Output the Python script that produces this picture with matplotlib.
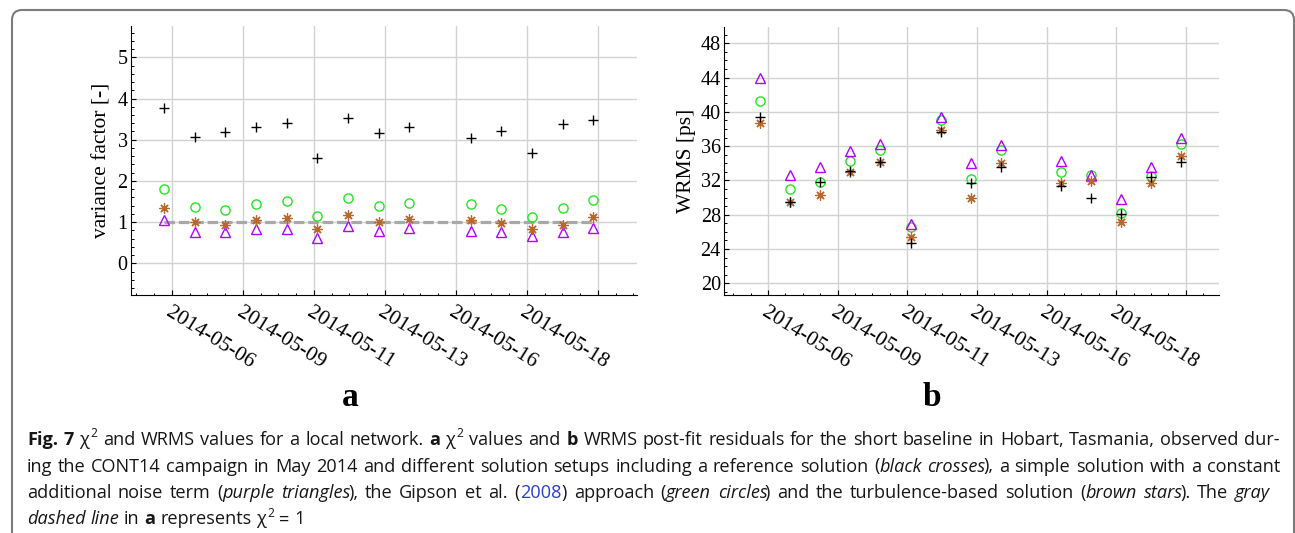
import re
import numpy as np
import matplotlib
matplotlib.use('Agg')
import matplotlib.pyplot as plt
import matplotlib.dates as mdates
from matplotlib.ticker import MultipleLocator, FixedLocator
from matplotlib import font_manager
from matplotlib.patches import PathPatch
from matplotlib.path import Path
from matplotlib.transforms import IdentityTransform

# ---------------- data ----------------
sessions = ['2014-05-06', '2014-05-07', '2014-05-08', '2014-05-09', '2014-05-10',
            '2014-05-11', '2014-05-12', '2014-05-13', '2014-05-14', '2014-05-16',
            '2014-05-17', '2014-05-18', '2014-05-19', '2014-05-20']

chi2_reference = [3.76, 3.06, 3.19, 3.30, 3.41, 2.55, 3.52, 3.16, 3.30, 3.04, 3.21, 2.67, 3.38, 3.48]
chi2_constant = [1.04, 0.77, 0.75, 0.83, 0.84, 0.62, 0.91, 0.79, 0.85, 0.79, 0.75, 0.66, 0.75, 0.85]
chi2_gipson = [1.81, 1.36, 1.30, 1.45, 1.50, 1.15, 1.58, 1.38, 1.47, 1.43, 1.32, 1.13, 1.33, 1.53]
chi2_turbulence = [1.33, 1.00, 0.92, 1.05, 1.10, 0.83, 1.16, 0.99, 1.07, 1.05, 0.97, 0.83, 0.94, 1.13]

wrms_reference = [39.4, 29.5, 31.8, 33.1, 34.1, 24.7, 37.7, 31.7, 33.6, 31.3, 30.0, 28.1, 32.4, 34.2]
wrms_constant = [44.0, 32.6, 33.6, 35.4, 36.2, 26.9, 39.4, 34.0, 36.1, 34.3, 32.6, 29.8, 33.6, 37.0]
wrms_gipson = [41.3, 31.0, 31.8, 34.3, 35.6, 26.6, 39.1, 32.2, 35.5, 33.0, 32.6, 28.2, 32.5, 36.2]
wrms_turbulence = [38.7, 29.5, 30.3, 33.0, 34.1, 25.4, 37.9, 30.0, 34.0, 31.7, 31.9, 27.1, 31.7, 34.9]

chi2_target = 1.0

date_labels = ['2014-05-06', '2014-05-09', '2014-05-11', '2014-05-13', '2014-05-16', '2014-05-18', '']

caption_lines = [
    "<b>Fig. 7</b>  χ<sup>2</sup> and WRMS values for a local network. <b>a</b> χ<sup>2</sup> values and "
    "<b>b</b> WRMS post-fit residuals for the short baseline in Hobart, Tasmania, observed dur-",
    "ing the CONT14 campaign in May 2014 and different solution setups including a reference solution "
    "(<i>black crosses</i>), a simple solution with a constant",
    "additional noise term (<i>purple triangles</i>), the Gipson et al. (<blue>2008</blue>) approach "
    "(<i>green circles</i>) and the turbulence-based solution (<i>brown stars</i>). The <i>gray</i>",
    "<i>dashed line</i> in <b>a</b> represents χ<sup>2</sup> = 1",
]

# ---------------- figure ----------------
W, H = 1295, 533
fig = plt.figure(figsize=(W / 100, H / 100), dpi=100)
fig.patch.set_facecolor('white')

SERIF = 'Liberation Serif'
x = mdates.datestr2num(sessions) + 0.5      # middle of each 24h session
tick_step = 2.315
tick_pos = x[0] + 0.26 + tick_step * np.arange(len(date_labels))

C_BLACK = 'black'
C_PURPLE = '#b400ff'
C_GREEN = '#22e622'
C_BROWN = '#b8682e'


def style_axis(ax, xlim, ylim, ymajor, yminor):
    ax.set_xlim(*xlim)
    ax.set_ylim(*ylim)
    for s in ['top', 'right']:
        ax.spines[s].set_visible(False)
    for s in ['left', 'bottom']:
        ax.spines[s].set_linewidth(0.8)
        ax.spines[s].set_color('black')
    ax.yaxis.set_major_locator(MultipleLocator(ymajor))
    ax.yaxis.set_minor_locator(MultipleLocator(yminor))
    ax.xaxis.set_major_locator(FixedLocator(tick_pos))
    minor = x[0] + 0.26 + tick_step / 4 * np.arange(-8, 40)
    ax.xaxis.set_minor_locator(FixedLocator(minor))
    ax.set_xticklabels(date_labels)
    ax.grid(True, which='major', color='#d2d2d2', linewidth=1.0)
    ax.set_axisbelow(True)
    ax.tick_params(which='major', direction='in', length=3.5, width=0.8, labelsize=14.5,
                   pad=2.5)
    ax.tick_params(which='minor', direction='in', length=1.8, width=0.7)
    ax.tick_params(axis='x', which='major', pad=5.5, labelsize=15.5)
    for lbl in ax.get_xticklabels() + ax.get_yticklabels():
        lbl.set_family(SERIF)
    for lbl in ax.get_xticklabels():
        lbl.set_rotation(-32)
        lbl.set_ha('left')
        lbl.set_va('top')
        lbl.set_rotation_mode('anchor')


def draw_series(ax, ref, const, gips, turb):
    ax.plot(x, gips, ls='none', marker='o', ms=6.6, mfc='none', mec=C_GREEN, mew=1.0, zorder=4)
    ax.plot(x, const, ls='none', marker='^', ms=6.8, mfc='none', mec=C_PURPLE, mew=1.0, zorder=4)
    ax.plot(x, turb, ls='none', marker=(8, 2, 0), ms=7.2, mec=C_BROWN, mew=0.9, zorder=5)
    ax.plot(x, turb, ls='none', marker='o', ms=3.0, mfc=C_BROWN, mec=C_BROWN, mew=0, zorder=5)
    ax.plot(x, ref, ls='none', marker='+', ms=7.0, mec=C_BLACK, mew=1.0, zorder=6)


# panel a
axa = fig.add_axes([131 / W, 1 - 295 / H, (636.7 - 131) / W, (295 - 26) / H])
axa.plot([x[0], x[-1]], [chi2_target, chi2_target], color='#a8a8a8', lw=2.3,
         dashes=(3.3, 1.2), zorder=3, solid_capstyle='butt')
draw_series(axa, chi2_reference, chi2_constant, chi2_gipson, chi2_turbulence)
style_axis(axa, (x[0] - 1.076, x[0] + 15.42), (-0.77, 5.76), 1, 0.2)
axa.set_ylabel('variance factor [-]', family=SERIF, fontsize=15.5, labelpad=4)

# panel b
axb = fig.add_axes([724.3 / W, 1 - 295 / H, (1219.3 - 724.3) / W, (295 - 26.7) / H])
draw_series(axb, wrms_reference, wrms_constant, wrms_gipson, wrms_turbulence)
style_axis(axb, (x[0] - 1.19, x[0] + 15.26), (18.63, 49.94), 4, 1)
axb.set_ylabel('WRMS [ps]', family=SERIF, fontsize=15.5, labelpad=3)

# panel letters
fig.text(350 / W, 1 - 406 / H, 'a', family=SERIF, fontsize=24, fontweight='bold',
         ha='center', va='baseline')
fig.text(932 / W, 1 - 406 / H, 'b', family=SERIF, fontsize=24, fontweight='bold',
         ha='center', va='baseline')

# frame around figure + caption
r = 10
L, R, T, B = 12, 1294, H - 10, -3
verts = [(L, B), (L, T - r), (L, T), (L + r, T), (R - r, T), (R, T), (R, T - r), (R, B)]
codes = [Path.MOVETO, Path.LINETO, Path.CURVE3, Path.CURVE3, Path.LINETO,
         Path.CURVE3, Path.CURVE3, Path.LINETO]
fig.add_artist(PathPatch(Path(verts, codes), fill=False, edgecolor='#7c7c7c', lw=1.5,
                         transform=IdentityTransform()))

# ---------------- caption ----------------
names = {f.name for f in font_manager.fontManager.ttflist}
cap_family = next((n for n in ['Liberation Sans Narrow', 'Open Sans', 'Liberation Sans']
                   if n in names), 'DejaVu Sans')
renderer = fig.canvas.get_renderer()


def parse(s):
    pieces, style = [], set()
    for tok in re.split(r'(</?\w+>)', s):
        if not tok:
            continue
        m = re.fullmatch(r'<(/?)(\w+)>', tok)
        if m:
            if m.group(1):
                style.discard(m.group(2))
            else:
                style.add(m.group(2))
        else:
            pieces.append((tok, frozenset(style)))
    words = [[]]
    for text, st in pieces:
        parts = text.split(' ')
        for i, p in enumerate(parts):
            if i > 0:
                words.append([])
            if p:
                words[-1].append((p, st))
    return [w for w in words if w]


def props(st, fs):
    return dict(family=cap_family,
                fontsize=fs * (0.66 if 'sup' in st else 1.0),
                color='#2a3fd0' if 'blue' in st else '#161616',
                fontweight='bold' if 'b' in st else 'normal',
                fontstyle='italic' if 'i' in st else 'normal')


def measure(text, kw):
    t = fig.text(0, 0, text, **kw)
    w = t.get_window_extent(renderer).width
    t.remove()
    return w


def join_gap(prev_st, st):
    if 'sup' in st:
        return 1.5
    if 'i' in prev_st and 'i' not in st:
        return -2.5
    return 0.3


def word_width(word, fs):
    w = 0
    for i, (txt, st) in enumerate(word):
        if i > 0:
            w += join_gap(word[i - 1][1], st)
        w += measure(txt, props(st, fs))
    return w


parsed = [parse(s) for s in caption_lines]
x_left, x_right = 27, 1280
target = x_right - x_left

fs0 = 10.0
sp0 = measure('a a', props(frozenset(), fs0)) - measure('aa', props(frozenset(), fs0))
nat = sum(word_width(w, fs0) for w in parsed[0]) + sp0 * (len(parsed[0]) - 1)
fs = max(9.0, min(13.5, fs0 * target * 0.985 / nat))
space = measure('a a', props(frozenset(), fs)) - measure('aa', props(frozenset(), fs))

baselines = [445, 471.5, 498, 524.5]
justify_to = [x_right, x_right, 1270, None]
for words, yb, jr in zip(parsed, baselines, justify_to):
    widths = [word_width(w, fs) for w in words]
    if jr is not None and len(words) > 1:
        gap = (jr - x_left - sum(widths)) / (len(words) - 1)
    else:
        gap = space
    cx = x_left
    for word, ww in zip(words, widths):
        px = cx
        for i, (txt, st) in enumerate(word):
            kw = props(st, fs)
            if i > 0:
                px += join_gap(word[i - 1][1], st)
            dy = fs * 100 / 72 * 0.42 if 'sup' in st else 0
            fig.text(px / W, (H - yb + dy) / H, txt, ha='left', va='baseline', **kw)
            px += measure(txt, kw)
        cx += ww + gap

fig.savefig('out.png', dpi=100, facecolor='white')
